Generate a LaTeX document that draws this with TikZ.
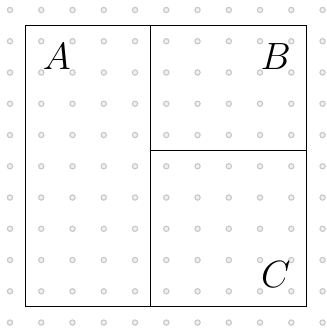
\documentclass[tikz,border=0pt]{standalone}
\usepackage{amsmath}
\usepackage{tikz}
\usetikzlibrary{positioning}
\definecolor{dotgray}{RGB}{200,200,200}
\definecolor{dotfill}{RGB}{240,240,240}

\begin{document}
\begin{tikzpicture}[x=0.5cm, y=0.5cm,
  griddot/.style={draw=dotgray, fill=dotfill, line width=0.5pt},
  region/.style={font=\LARGE}]
\useasboundingbox (-0.32,-0.27) rectangle (10.14,10.32);
% Dot grid
\foreach \i in {0,...,10}
  \foreach \j in {0,...,10}
    \draw[griddot] (\i,\j) circle (0.085);
% Outer square and cuts
\draw[black, line width=0.5pt] (0.5,0.5) rectangle (9.5,9.5);
\draw[black, line width=0.5pt] (4.5,0.5) -- (4.5,9.5);
\draw[black, line width=0.5pt] (4.5,5.5) -- (9.5,5.5);
% Labels
\node[region] (labA) at (1.5,8.5) {$A$};
\node[region] (labB) at (8.5,8.5) {$B$};
\node[region] (labC) at (8.5,1.55) {$C$};
\end{tikzpicture}
\end{document}
